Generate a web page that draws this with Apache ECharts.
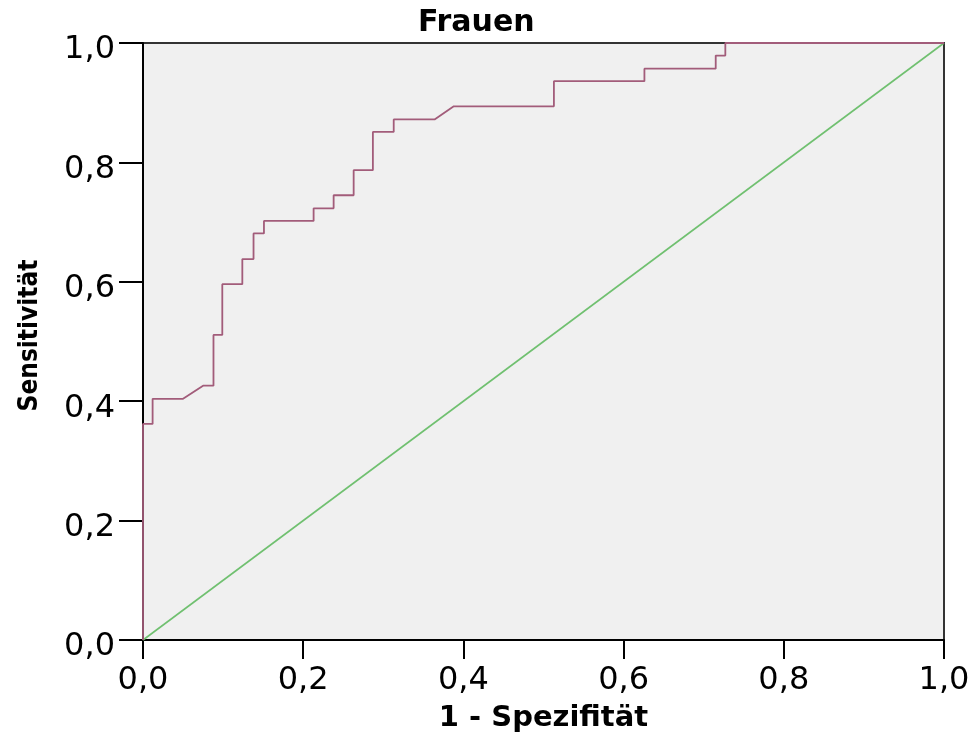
<!DOCTYPE html>
<html>
<head>
<meta charset="utf-8">
<script src="https://cdn.jsdelivr.net/npm/echarts@6/dist/echarts.min.js"></script>
<style>html,body{margin:0;padding:0;background:#fff}#c{width:976px;height:740px}</style>
</head>
<body>
<div id="c"></div>
<script>
var titleText = "Frauen";
var xName = "1 - Spezifität";
var yName = "Sensitivität";
var tickValues = [0, 0.2, 0.4, 0.6, 0.8, 1.0];
var tickLabels = ["0,0", "0,2", "0,4", "0,6", "0,8", "1,0"];
var fpr = [0, 0, 0.012, 0.012, 0.050, 0.075, 0.088, 0.088, 0.099, 0.099, 0.124, 0.124, 0.138, 0.138, 0.151, 0.151, 0.213, 0.213, 0.238, 0.238, 0.263, 0.263, 0.287, 0.287, 0.313, 0.313, 0.364, 0.388, 0.513, 0.513, 0.626, 0.626, 0.715, 0.715, 0.727, 0.727, 1.0];
var tpr = [0, 0.362, 0.362, 0.404, 0.404, 0.426, 0.426, 0.511, 0.511, 0.596, 0.596, 0.638, 0.638, 0.681, 0.681, 0.702, 0.702, 0.723, 0.723, 0.745, 0.745, 0.787, 0.787, 0.851, 0.851, 0.872, 0.872, 0.894, 0.894, 0.936, 0.936, 0.957, 0.957, 0.979, 0.979, 1.0, 1.0];
var refX = [0, 1];
var refY = [0, 1];

function fmt(v) {
  for (var i = 0; i < tickValues.length; i++) {
    if (Math.abs(tickValues[i] - v) < 1e-6) return tickLabels[i];
  }
  return "";
}
function pairs(xs, ys) { return xs.map(function (x, i) { return [x, ys[i]]; }); }

var chart = echarts.init(document.getElementById('c'), null, { renderer: 'canvas' });
chart.setOption({
  animation: false,
  backgroundColor: '#ffffff',
  title: {
    text: titleText, left: 413, top: 3,
    textStyle: { fontFamily: 'DejaVu Sans', fontWeight: 'bold', fontSize: 30, color: '#000' }
  },
  grid: {
    left: 143, right: 32, top: 43, bottom: 100,
    show: true, backgroundColor: '#f0f0f0', borderColor: '#333', borderWidth: 2
  },
  xAxis: {
    type: 'value', min: 0, max: 1, interval: 0.2,
    name: xName, nameLocation: 'middle', nameGap: 64,
    nameTextStyle: { fontFamily: 'DejaVu Sans', fontWeight: 'bold', fontSize: 29, color: '#000' },
    axisLine: { show: true, lineStyle: { color: '#000', width: 2 } },
    axisTick: { show: true, length: 19, lineStyle: { color: '#000', width: 2 } },
    axisLabel: { formatter: fmt, margin: 25, fontFamily: 'DejaVu Sans', fontSize: 32, color: '#000' },
    splitLine: { show: false }
  },
  yAxis: {
    type: 'value', min: 0, max: 1, interval: 0.2,
    name: yName, nameLocation: 'middle', nameGap: 100, nameRotate: 90,
    nameTextStyle: { fontFamily: "'Liberation Sans Narrow','DejaVu Sans Condensed','Liberation Sans'", fontWeight: 'bold', fontSize: 26, color: '#000', padding: [0, 0, 0, 12] },
    axisLine: { show: true, lineStyle: { color: '#000', width: 2 } },
    axisTick: { show: true, length: 24, lineStyle: { color: '#000', width: 2 } },
    axisLabel: { formatter: fmt, margin: 28, fontFamily: 'DejaVu Sans', fontSize: 32, color: '#000', verticalAlign: 'top', lineHeight: 14 },
    splitLine: { show: false }
  },
  series: [
    {
      type: 'line', data: pairs(refX, refY), symbol: 'none', silent: true,
      lineStyle: { color: '#70c070', width: 1.6 }
    },
    {
      type: 'line', data: pairs(fpr, tpr), symbol: 'none', silent: true,
      lineStyle: { color: '#a25c7a', width: 1.8 }
    }
  ]
});
</script>
</body>
</html>
